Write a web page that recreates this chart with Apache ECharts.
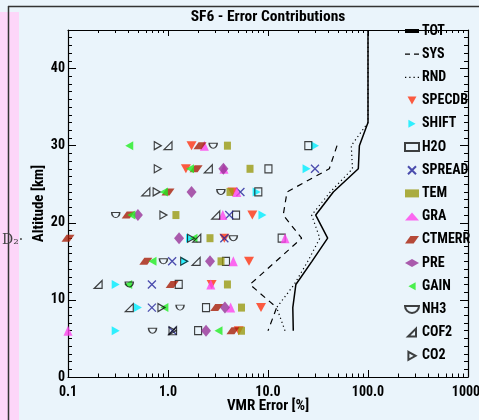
<!DOCTYPE html>
<html>
<head>
<meta charset="utf-8">
<script src="https://cdn.jsdelivr.net/npm/echarts@6/dist/echarts.min.js"></script>
<style>
html,body{margin:0;padding:0;background:#eaf4fb;}
#chart{width:479px;height:420px;}
</style>
</head>
<body>
<div id="chart"></div>
<script>
// altitude levels of the marker rows [km]
var alts = [30, 27, 24, 21, 18, 15, 12, 9, 6];

// single contributions, VMR error [%], one value per altitude level (null = not drawn)
var specdb = [1.72, 1.51, 4.42, 6.97, 3.66, 6.46, 2.73, 8.51, 5.1];
var shift  = [29.5, 24.3, 7.7, 8.8, 1.66, 1.48, 0.30, 0.50, 0.30];
var h2o    = [25.3, 10.1, 8.0, 4.79, 13.7, 3.8, 1.28, 2.4, 2.0];
var spread = [null, 29.5, 5.3, 4.1, 3.66, 1.1, 0.69, 0.69, 1.11];
var tem    = [3.93, 6.61, 4.17, 1.2, 2.63, 3.39, 3.93, 5.43, 5.43];
var gra    = [2.31, 3.63, 4.88, 3.53, 14.8, 4.5, 2.68, 4.23, 0.1];
var ctmerr = [2.09, 1.91, 1.0, 0.40, 0.1, 0.6, 1.1, 3.07, 4.46];
var pre    = [null, 3.58, 1.72, 0.50, 1.29, 2.63, null, 3.71, 2.4];
var gain   = [0.41, 1.66, 0.91, 0.43, 1.8, 0.70, 0.40, 0.92, 3.2];
var nh3    = [2.83, null, 3.38, 0.30, 4.5, 0.9, 0.41, 1.32, 0.70];
var cof2   = [1.0, 2.53, 0.6, 3.0, 1.94, 1.91, 0.2, 0.41, 1.11];
var co2    = [0.79, 0.79, 0.77, 0.9, 1.7, 1.45, null, 0.86, 1.11];

// error profiles
var totAlt = [45, 33, 30, 27, 24, 21, 18, 15, 12, 9, 6];
var tot    = [100, 100, 82, 80, 45, 30, 39.5, 27.5, 19, 17.7, 17.9];
var sysAlt = [30, 27, 24, 21, 18, 15, 12, 9, 6];
var sys    = [49, 41, 15.5, 14.2, 21.7, 12, 6.6, 12.2, 10];
var rndAlt = [45, 33, 30, 27, 24, 21, 18, 15, 12, 9, 6];
var rnd    = [100, 100, 68, 70, 42, 27.3, 33, 25, 18.3, 12.2, 14.8];

// tick labels
var xTickLabels = ['0.1', '1.0', '10.0', '100.0', '1000.'];
var yTickValues = [0, 10, 20, 30, 40];

var TITLE = 'SF6 - Error Contributions';

// the original uses a narrow bold face; take the narrowest one that is installed
// and shrink the sizes so text widths come out close to the reference
function pickFont() {
	var ctx = document.createElement('canvas').getContext('2d');
	ctx.font = 'bold 16px monospace';
	var mono = ctx.measureText(TITLE).width;
	var list = ['Liberation Sans Narrow', 'Arial Narrow', 'Nimbus Sans Narrow', 'Noto Sans Condensed',
		'Roboto Condensed', 'Open Sans Condensed', 'DejaVu Sans Condensed', 'Liberation Sans'];
	var best = null, bestW = 0;
	for (var i = 0; i < list.length; i++) {
		ctx.font = 'bold 16px "' + list[i] + '", monospace';
		var w = ctx.measureText(TITLE).width;
		if (Math.abs(w - mono) < 0.5) continue;
		if (best === null || Math.abs(w - 157) < Math.abs(bestW - 157)) {
			best = list[i];
			bestW = w;
		}
	}
	if (best === null) {
		best = 'Liberation Sans';
		bestW = 192;
	}
	return {family: '"' + best + '", "Liberation Sans", Arial, sans-serif', k: Math.min(1, 157 / bestW)};
}
var F = pickFont();
var FONT = F.family;
function fs(px) {
	return Math.round(px * F.k * 2) / 2;
}

var minorX = [];
for (var d = -1; d < 3; d++) {
	for (var k = 2; k < 10; k++) minorX.push(d + Math.log10(k));
}
var minorY = [];
for (var a = 1; a < 45; a++) {
	if (a % 10 !== 0) minorY.push(a);
}

function pairs(vals, levels) {
	var out = [];
	for (var i = 0; i < vals.length; i++) {
		if (vals[i] != null) out.push([vals[i], levels[i]]);
	}
	return out;
}

var SYM = {
	down: 'path://M0,0L10,0L5,9Z',
	right: 'path://M0,0L9,5L0,10Z',
	left: 'path://M9,0L0,5L9,10Z',
	para: 'path://M5,0L13,0L8,7L0,7Z',
	cross: 'path://M0,0L10,10M10,0L0,10',
	bowl: 'path://M0,0L10,0A5,5,0,0,1,0,0Z',
	corner: 'path://M10,0L10,10L0,10Z'
};

var OPEN = {color: 'rgba(255,255,255,0)', borderColor: '#111', borderWidth: 1.2};

function scatter(name, vals, symbol, size, style) {
	return {
		name: name,
		type: 'scatter',
		symbol: symbol,
		symbolSize: size,
		itemStyle: style,
		data: pairs(vals, alts)
	};
}

function profile(name, vals, levels, line) {
	return {
		name: name,
		type: 'line',
		showSymbol: false,
		symbol: 'none',
		lineStyle: line,
		itemStyle: {color: '#000'},
		data: pairs(vals, levels),
		z: 1
	};
}

var chart = echarts.init(document.getElementById('chart'));

var axisTxt = {fontFamily: FONT, fontWeight: 'bold', fontSize: fs(15), color: '#000'};
var tickTxt = {fontFamily: FONT, fontWeight: 'bold', fontSize: fs(14), color: '#000'};
var blackLine = {color: '#000', width: 1.2};

var option = {
	animation: false,
	backgroundColor: '#eaf4fb',
	title: {
		text: TITLE,
		left: 268,
		textAlign: 'center',
		top: 17,
		textVerticalAlign: 'middle',
		padding: 0,
		textStyle: {fontFamily: FONT, fontWeight: 'bold', fontSize: fs(16), color: '#000'}
	},
	graphic: [
		{type: 'rect', left: 0, top: 12, shape: {width: 19, height: 408}, style: {fill: '#fdd6f9'}, z: 0},
		{type: 'line', shape: {x1: 8.5, y1: 6, x2: 8.5, y2: 420}, style: {stroke: '#333', lineWidth: 1.5}, z: 1},
		{type: 'line', shape: {x1: 8, y1: 6.5, x2: 479, y2: 6.5}, style: {stroke: '#333', lineWidth: 1.5}, z: 1},
		{type: 'text', left: 2, top: 233, style: {text: 'D\u2082\u00b7', font: '14px "DejaVu Serif", serif', fill: '#444'}, z: 1}
	],
	grid: {left: 68, right: 11, top: 30, bottom: 43, outerBoundsMode: 'none'},
	legend: {
		orient: 'vertical',
		left: 404,
		top: 24,
		itemWidth: 14,
		itemHeight: 8,
		itemGap: 9.2,
		padding: 0,
		textStyle: {fontFamily: FONT, fontWeight: 'bold', fontSize: fs(14), color: '#000', padding: [0, 0, 0, -2]},
		data: [
			{name: 'TOT', icon: 'path://M0,3L14,3L14,7L0,7Z'},
			{name: 'SYS', icon: 'path://M0,0L5,0L5,1.3L0,1.3Z M9,0L14,0L14,1.3L9,1.3Z'},
			{name: 'RND', icon: 'path://M0,0L1.2,0L1.2,1.2L0,1.2Z M4,0L5.2,0L5.2,1.2L4,1.2Z M8,0L9.2,0L9.2,1.2L8,1.2Z M12,0L13.2,0L13.2,1.2L12,1.2Z'},
			'SPECDB', 'SHIFT', 'H2O', 'SPREAD', 'TEM', 'GRA',
			'CTMERR', 'PRE', 'GAIN', 'NH3', 'COF2', 'CO2'
		]
	},
	xAxis: [{
		type: 'log',
		logBase: 10,
		min: 0.1,
		max: 1000,
		position: 'bottom',
		axisLine: {onZero: false, lineStyle: blackLine},
		axisTick: {inside: true, length: 7, lineStyle: {color: '#000'}},
		axisLabel: {
			margin: 8,
			fontFamily: FONT, fontWeight: 'bold', fontSize: fs(14), color: '#000',
			formatter: function (v) {
				return xTickLabels[Math.round(Math.log10(v)) + 1] || '';
			}
		},
		splitLine: {show: false},
		name: 'VMR Error [%]',
		nameLocation: 'middle',
		nameGap: 22,
		nameMoveOverlap: false,
		nameTextStyle: axisTxt
	}, {
		type: 'log',
		logBase: 10,
		min: 0.1,
		max: 1000,
		position: 'top',
		axisLine: {onZero: false, lineStyle: blackLine},
		axisTick: {inside: true, length: 6, lineStyle: {color: '#000'}},
		axisLabel: {show: false},
		splitLine: {show: false}
	}, {
		type: 'value',
		min: -1,
		max: 3,
		position: 'bottom',
		axisLine: {show: false, onZero: false},
		axisTick: {inside: true, length: 3.5, customValues: minorX, lineStyle: {color: '#000'}},
		axisLabel: {show: false},
		splitLine: {show: false}
	}, {
		type: 'value',
		min: -1,
		max: 3,
		position: 'top',
		axisLine: {show: false, onZero: false},
		axisTick: {inside: true, length: 3, customValues: minorX, lineStyle: {color: '#000'}},
		axisLabel: {show: false},
		splitLine: {show: false}
	}],
	yAxis: [{
		type: 'value',
		min: 0,
		max: 45,
		position: 'left',
		axisLine: {onZero: false, lineStyle: blackLine},
		axisTick: {inside: true, length: 8, customValues: yTickValues, lineStyle: {color: '#000'}},
		axisLabel: Object.assign({margin: 3, customValues: yTickValues}, tickTxt),
		splitLine: {show: false},
		name: 'Altitude [km]',
		nameLocation: 'middle',
		nameGap: 21,
		nameMoveOverlap: false,
		nameTextStyle: axisTxt
	}, {
		type: 'value',
		min: 0,
		max: 45,
		position: 'right',
		axisLine: {onZero: false, lineStyle: blackLine},
		axisTick: {inside: true, length: 8, customValues: yTickValues, lineStyle: {color: '#000'}},
		axisLabel: {show: false},
		splitLine: {show: false}
	}, {
		type: 'value',
		min: 0,
		max: 45,
		position: 'left',
		axisLine: {show: false, onZero: false},
		axisTick: {inside: true, length: 4, customValues: minorY, lineStyle: {color: '#000'}},
		axisLabel: {show: false},
		splitLine: {show: false}
	}, {
		type: 'value',
		min: 0,
		max: 45,
		position: 'right',
		axisLine: {show: false, onZero: false},
		axisTick: {inside: true, length: 4, customValues: minorY, lineStyle: {color: '#000'}},
		axisLabel: {show: false},
		splitLine: {show: false}
	}],
	series: [
		profile('TOT', tot, totAlt, {color: '#000', width: 1.5}),
		profile('SYS', sys, sysAlt, {color: '#000', width: 1.2, type: [6, 5]}),
		profile('RND', rnd, rndAlt, {color: '#000', width: 1.2, type: [1.2, 3]}),
		scatter('SPECDB', specdb, SYM.down, [10, 9], {color: '#ff3311'}),
		scatter('SHIFT', shift, SYM.right, [8, 9], {color: '#00eeff'}),
		scatter('H2O', h2o, 'rect', [7, 8], OPEN),
		scatter('SPREAD', spread, SYM.cross, [8, 8], {color: '#22229a', borderColor: '#22229a', borderWidth: 1.3}),
		scatter('TEM', tem, 'rect', [7, 8], {color: '#9a9a12'}),
		scatter('GRA', gra, 'triangle', [9, 10], {color: '#ff44ee'}),
		scatter('CTMERR', ctmerr, SYM.para, [13, 7], {color: '#a81e08'}),
		scatter('PRE', pre, 'diamond', [10, 12], {color: '#993399'}),
		scatter('GAIN', gain, SYM.left, [8, 9], {color: '#22ee22'}),
		scatter('NH3', nh3, SYM.bowl, [8, 5], OPEN),
		scatter('COF2', cof2, SYM.corner, [8, 8], OPEN),
		scatter('CO2', co2, SYM.right, [7, 8], OPEN)
	]
};

chart.setOption(option);
</script>
</body>
</html>
